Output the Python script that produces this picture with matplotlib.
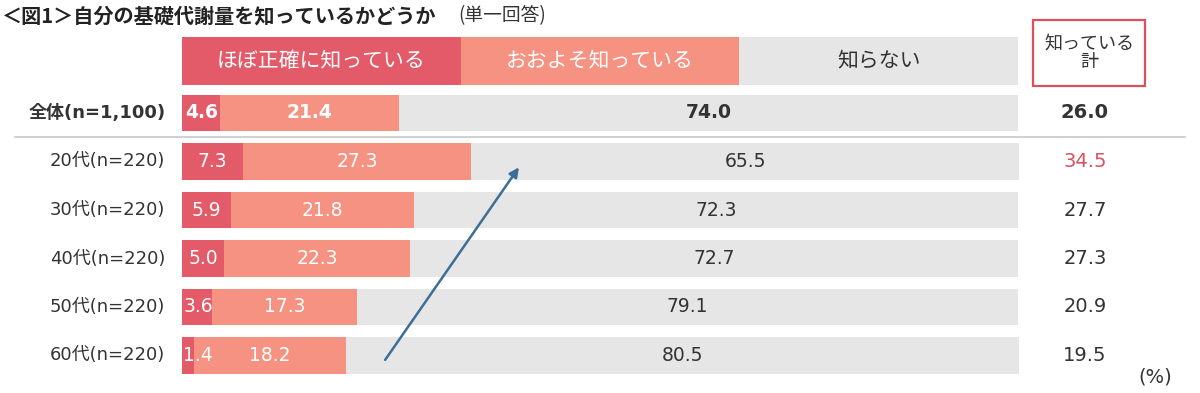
import matplotlib
matplotlib.use("Agg")
import matplotlib.pyplot as plt
from matplotlib.patches import Rectangle

plt.rcParams['font.family'] = ['DejaVu Sans', 'Noto Sans CJK JP']
CJK = ['Noto Sans CJK JP', 'DejaVu Sans']

# data
rows = ['全体(n=1,100)', '20代(n=220)', '30代(n=220)', '40代(n=220)', '50代(n=220)', '60代(n=220)']
exact = [4.6, 7.3, 5.9, 5.0, 3.6, 1.4]
rough = [21.4, 27.3, 21.8, 22.3, 17.3, 18.2]
unknown = [74.0, 65.5, 72.3, 72.7, 79.1, 80.5]
known_total = [26.0, 34.5, 27.7, 27.3, 20.9, 19.5]
legend_labels = ['ほぼ正確に知っている', 'おおよそ知っている', '知らない']

c_dark = '#E35A68'
c_salmon = '#F69282'
c_gray = '#E6E6E6'
c_text = '#333333'
c_red = '#D9505E'

W, H = 1200, 393
fig = plt.figure(figsize=(W / 100, H / 100), dpi=100)
ax = fig.add_axes([0, 0, 1, 1])
# 0..100 -> px 182..1018, row i centre -> px 113 + 48.5*i
sx = 8.36
ax.set_xlim(-182 / sx, (W - 182) / sx)
ax.set_ylim((H - 113) / 48.5, -113 / 48.5)
ax.axis('off')

# header legend bar
third = 100 / 3
for k, (lab, col) in enumerate(zip(legend_labels, [c_dark, c_salmon, c_gray])):
    ax.barh(-1.08, third, left=k * third, height=0.99, color=col, linewidth=0)
    ax.text(k * third + third / 2, -1.08, lab, ha='center', va='center', fontsize=15,
            color='white' if k < 2 else c_text, family=CJK)

# rows
for i, name in enumerate(rows):
    bold = i == 0
    fw = 'bold' if bold else 'normal'
    ax.barh(i, exact[i], height=0.76, color=c_dark, linewidth=0)
    ax.barh(i, rough[i], left=exact[i], height=0.76, color=c_salmon, linewidth=0)
    ax.barh(i, unknown[i], left=exact[i] + rough[i], height=0.76, color=c_gray, linewidth=0)
    ax.text(max(exact[i] / 2, 1.9), i, f'{exact[i]:.1f}', ha='center', va='center',
            fontsize=13.5, color='white', fontweight=fw)
    ax.text(exact[i] + rough[i] / 2, i, f'{rough[i]:.1f}', ha='center', va='center',
            fontsize=13.5, color='white', fontweight=fw)
    ax.text(exact[i] + rough[i] + unknown[i] / 2, i, f'{unknown[i]:.1f}', ha='center',
            va='center', fontsize=13.5, color=c_text, fontweight=fw)
    ax.text(-2.0, i, name, ha='right', va='center', fontsize=13, color=c_text,
            fontweight=fw)
    ax.text(108.0, i, f'{known_total[i]:.1f}', ha='center', va='center', fontsize=14,
            color=c_red if i == 1 else c_text, fontweight=fw)

# separator under total row
ax.plot([(15 - 182) / sx, (1185 - 182) / sx], [0.5, 0.5], color='#C8C8C8', lw=1.2)

# "知っている計" box
ax.add_patch(Rectangle((101.8, -1.92), 13.4, 1.36, facecolor='white', edgecolor=c_red,
                       lw=1.6))
ax.text(108.5, -1.24, '知っている\n計', ha='center', va='center', fontsize=13,
        color=c_text, linespacing=1.05, family=CJK)

# arrow
ax.annotate('', xy=(40.3, 1.12), xytext=(24.3, 5.09),
            arrowprops=dict(arrowstyle='-|>', color='#3E6E95', lw=1.8,
                            mutation_scale=14, shrinkA=0, shrinkB=0))

ax.text(116.4, 5.44, '(%)', ha='center', va='center', fontsize=14, color=c_text)

# title
fig.text(2 / W, 1 - 16 / H, '＜図1＞自分の基礎代謝量を知っているかどうか', ha='left',
         va='center', fontsize=14.5, fontweight='bold', color='#222222', family=CJK)
fig.text(458 / W, 1 - 16 / H, '(単一回答)', ha='left', va='center', fontsize=13.5,
         color=c_text, family=CJK)

fig.savefig('out.png', dpi=100)
